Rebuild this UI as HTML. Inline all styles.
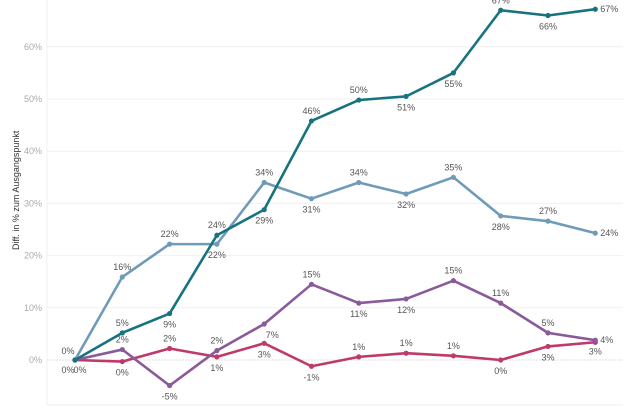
<!DOCTYPE html>
<html><head><meta charset="utf-8"><style>
html,body{margin:0;padding:0;background:#fff;width:630px;height:412px;overflow:hidden}
svg{display:block;font-family:"Liberation Sans",sans-serif}
</style></head><body>
<svg id="chart" width="630" height="412" viewBox="0 0 630 412"></svg>
<script>
const categories=["1","2","3","4","5","6","7","8","9","10","11","12"];
const seriesTeal=[0,5.2,8.9,23.9,28.8,45.8,49.8,50.5,55,67,66,67.2];
const seriesBlue=[0,15.9,22.2,22.2,34,30.9,34,31.8,35,27.6,26.6,24.3];
const seriesPurple=[0,2,-4.9,1.8,6.9,14.5,10.9,11.7,15.2,10.9,5.2,3.8];
const seriesCrimson=[0,-0.3,2.2,0.6,3.2,-1.2,0.6,1.3,0.8,0,2.6,3.4];
const yTicks=[0,10,20,30,40,50,60];
const NS="http://www.w3.org/2000/svg";
const svg=document.getElementById('chart');
const x=i=>75+i*47.3;
const y=v=>360-v*5.22;
// label side overrides (layout only)
const overrides={'purple-4':'below','crimson-4':'below','crimson-10':'below','purple-10':'above','purple-3':'above','crimson-3':'below'};
function el(t,a,p){const e=document.createElementNS(NS,t);for(const k in a)e.setAttribute(k,a[k]);(p||svg).appendChild(e);return e;}
yTicks.forEach(t=>{
  const g=el('line',{x1:47,x2:623,y1:y(t),y2:y(t),stroke:t===0?'#ddd':'#f0f0f0','stroke-width':1,'stroke-dasharray':t===0?'2,1':'none'});
  
  
  const tx=el('text',{x:42,y:y(t)+3,'text-anchor':'end','font-size':9,fill:'#aaa'});
  tx.textContent=t+'%';
  
  
});
el('line',{x1:47,x2:47,y1:0,y2:405,stroke:'#f0f0f0'});
el('line',{x1:47,x2:623,y1:405,y2:405,stroke:'#eee'});
const yt=el('text',{transform:'translate(19,250) rotate(-90)','font-size':9,fill:'#333','text-anchor':'start'});
yt.textContent='Diff. in % zum Ausgangspunkt';


const series=[
 {n:'crimson',d:seriesCrimson,c:'#c0396b'},
 {n:'purple',d:seriesPurple,c:'#8a5a9a'},
 {n:'blue',d:seriesBlue,c:'#6f9bb8'},
 {n:'teal',d:seriesTeal,c:'#17737f'}];
series.forEach(s=>{
  const pts=s.d.map((v,i)=>x(i)+','+y(v)).join(' ');
  const pl=el('polyline',{points:pts,fill:'none',stroke:s.c,'stroke-width':2.6,'stroke-linejoin':'round'});
  
  
  s.d.forEach((v,i)=>{
    const c=el('circle',{cx:x(i),cy:y(v),r:2.6,fill:s.c});
    
    
    const prev=i>0?s.d[i-1]:v,next=i<s.d.length-1?s.d[i+1]:v;
    let above=v>=(prev+next)/2;
    const o=overrides[s.n+'-'+i];
    if(o)above=(o==='above');
    let lx=x(i),ly=above?y(v)-7:y(v)+14,anchor='middle';
    if(s.n==='purple'&&i===4){lx=x(i)+8;}
    if(i===s.d.length-1){lx=x(i)+5;ly=y(v)+3;anchor='start';if(s.n==='crimson'){lx=x(i);ly=y(v)+12;anchor='middle';}}
    if(i===0){if(s.n==='teal'){lx=x(i)-7;ly=y(v)-6;}else if(s.n==='blue'){lx=x(i)-7;ly=y(v)+13;}else if(s.n==='purple'){lx=x(i)+5;ly=y(v)+13;}else return;}
    const t=el('text',{x:lx,y:ly,'text-anchor':anchor,'font-size':9,fill:'#555'});
    t.textContent=Math.round(v)+'%';
    
    
  });
});
</script>
</body></html>
